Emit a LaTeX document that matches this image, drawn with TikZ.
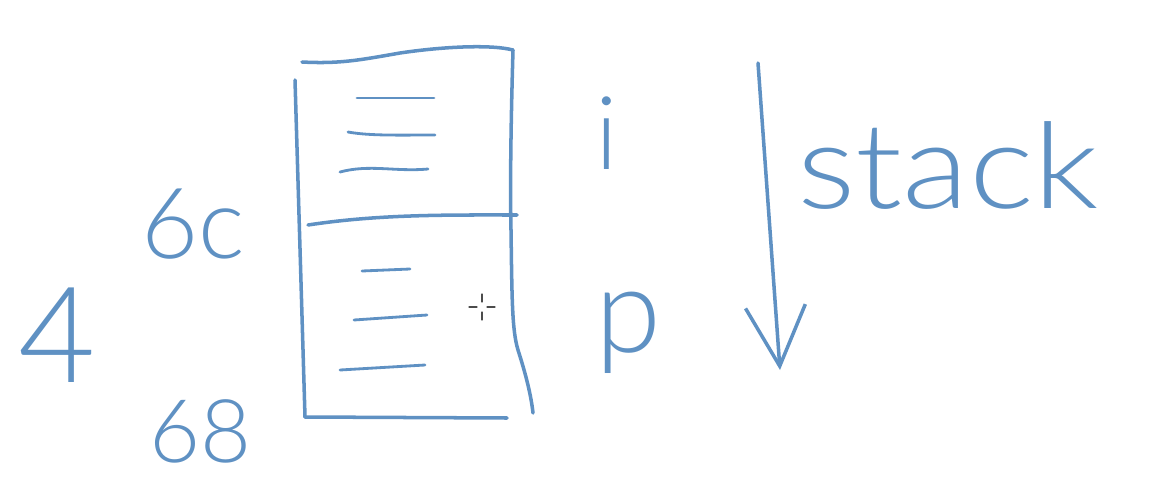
\documentclass[tikz,border=0pt]{standalone}
\usepackage{fontspec}
\usepackage{xcolor}
\usetikzlibrary{arrows.meta}
\newfontfamily\handfont{Lato Light}
\definecolor{pen}{RGB}{95,145,195}

\begin{document}
\begin{tikzpicture}[x=0.02cm, y=-0.02cm, line width=2pt, line cap=round, line join=round, color=pen]
\tikzstyle{hand}=[inner sep=0pt, text=pen]
\tikzstyle{entry}=[line width=1.6pt]
\useasboundingbox (0,0) rectangle (1153,494);
% the stack frame
\draw (302,62) .. controls (340,64) and (360,60) .. (400,53) .. controls (440,47) and (490,44) .. (513,50);
\draw (295,80) -- (305,417);
\draw (513,50) .. controls (511,120) and (510,180) .. (511,230) .. controls (512,300) and (512,330) .. (518,350) .. controls (526,375) and (531,395) .. (533,413);
\draw (305,417) -- (507,418);
\draw (308,225) .. controls (380,214) and (450,215) .. (517,215);
% contents of i
\draw[entry] (357,98) -- (434,98);
\draw[entry] (348,132) .. controls (370,136) and (400,135) .. (435,135);
\draw[entry] (340,172) .. controls (370,164) and (395,172) .. (428,169);
% contents of p
\draw[entry] (362,271) -- (410,269);
\draw[entry] (354,320) -- (427,315);
\draw[entry] (340,370) -- (425,365);
% mouse cursor
\draw[line width=0.6pt, black!70] (469,307) -- (477,307) (487,307) -- (495,307) (482,294) -- (482,302) (482,312) -- (482,320);
% labels
\node[hand, font=\handfont\fontsize{58}{58}\selectfont] (i) at (607,133) {i};
\node[hand, font=\handfont\fontsize{68}{68}\selectfont, anchor=base] (p) at (628,352) {p};
\node[hand, font=\handfont\fontsize{56}{56}\selectfont, anchor=base] (lo) at (193,258) {6c};
\node[hand, font=\handfont\fontsize{50}{50}\selectfont, anchor=base] (hi) at (200,462) {68};
\node[hand, font=\handfont\fontsize{76}{76}\selectfont, anchor=base] (size) at (57,382) {4};
\node[hand, font=\handfont\fontsize{68}{68}\selectfont, anchor=base west, xscale=1.15] (stack) at (795,208) {stack};
% growth direction
\coordinate (top) at (758,63);
\coordinate (tip) at (780,370);
\draw[-{Straight Barb[length=1.2cm, width=1.2cm]}] (top) -- (tip);
\end{tikzpicture}
\end{document}
